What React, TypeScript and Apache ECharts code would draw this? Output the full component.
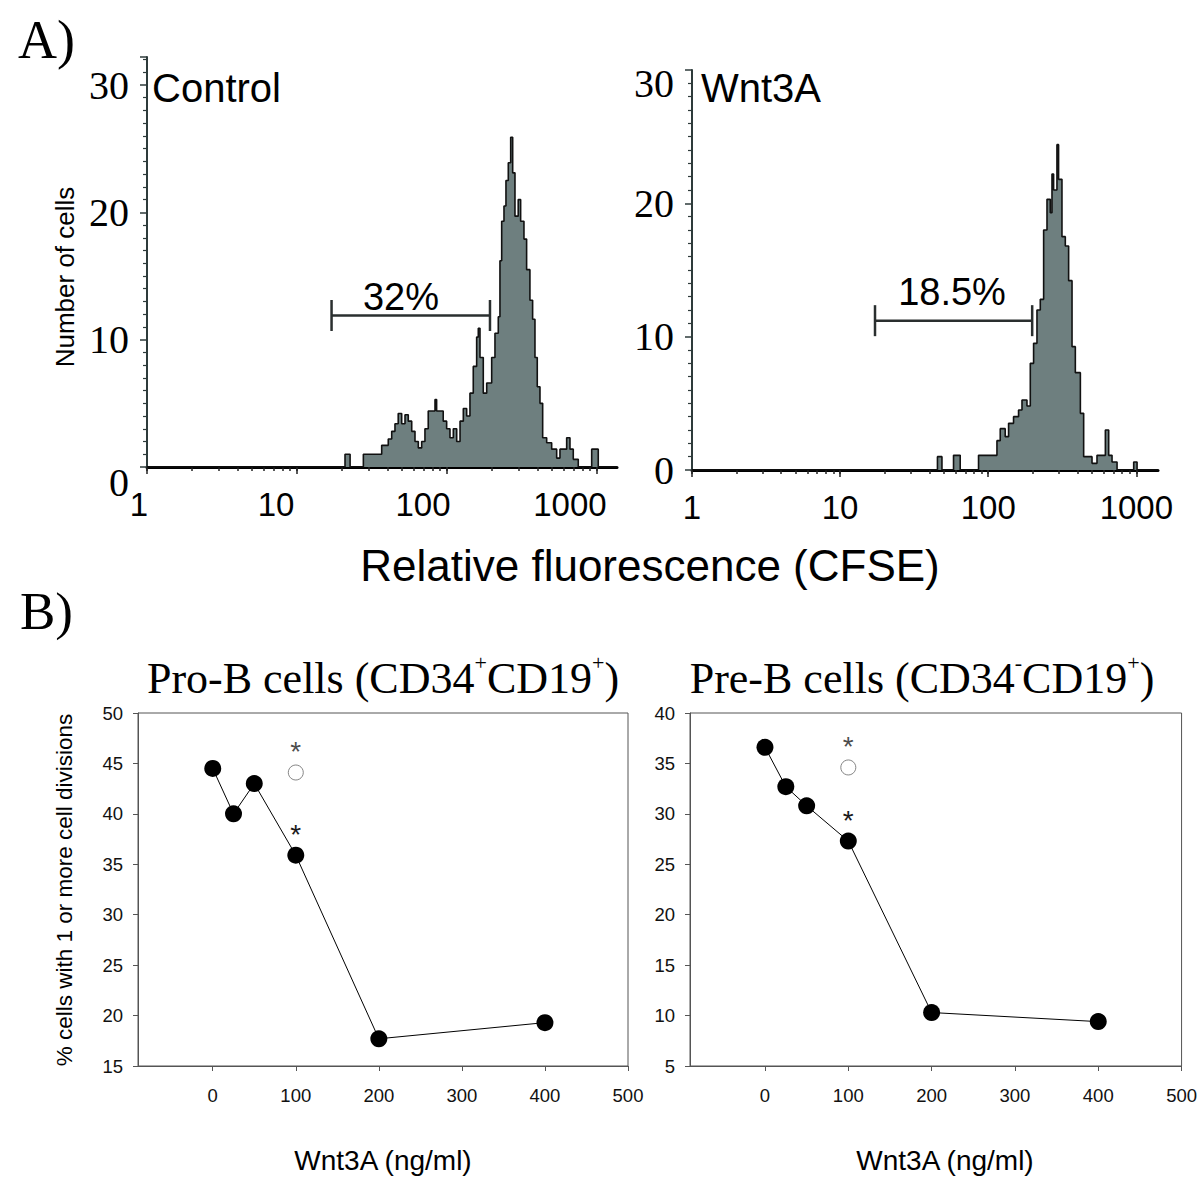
import React, { useEffect, useRef } from "react";
import * as echarts from "echarts";

const SANS = '"Liberation Sans", Arial, sans-serif';
const SERIF = '"Liberation Serif", "Times New Roman", serif';

// ---------- Panel A: CFSE histograms (bin start on log scale, number of cells) ----------
const controlFluor = [1, 20.9, 22.6, 27.7, 36.7, 40.6, 42.8, 45.0, 47.3, 49.9, 52.5, 55.2, 58.2, 61.2, 64.4, 67.8, 71.3, 75.0, 83.2, 85.3, 94.4, 99.5, 104.7, 110.2, 116.1, 122.2, 128.5, 135.3, 142.3, 149.7, 157.7, 161.7, 166.0, 174.6, 184.0, 198.6, 208.9, 219.8, 225.5, 231.6, 239.9, 247.3, 256.3, 265.9, 274.2, 284.0, 298.5, 309.8, 326.0, 339.6, 357.3, 372.4, 386.0, 399.9, 416.9, 434.5, 462.1, 498.9, 538.7, 566.6, 628.0, 660.7, 695.0, 750.4, 922, 1020, 1360];
const controlCounts = [0, 1, 0, 1, 1.7, 2.2, 2.8, 3.4, 4.2, 3.4, 4.1, 3.6, 2.8, 2.0, 1.5, 2.0, 3.0, 4.4, 5.3, 4.4, 3.6, 3.0, 2.3, 3.0, 2.0, 3.6, 4.6, 4.0, 5.8, 7.9, 10.2, 10.9, 8.6, 5.8, 6.6, 8.6, 10.5, 11.8, 16.2, 19.3, 20.5, 22.5, 23.9, 25.9, 23.1, 19.7, 21.0, 19.3, 17.9, 15.5, 13.1, 11.6, 8.6, 6.3, 5.0, 2.3, 1.9, 1.4, 0.7, 1.4, 2.3, 1.4, 0.6, 0, 1.4, 0, 0];

const wntFluor = [1, 45.4, 48.7, 58.3, 64.7, 86.0, 114.5, 120.5, 130.2, 137.2, 148.2, 160.2, 169.0, 182.6, 192.3, 202.4, 213.3, 224.6, 236.6, 249.3, 262.4, 269.4, 276.3, 291.0, 298.5, 314.6, 331.4, 349.0, 367.9, 387.3, 418.8, 440.8, 501.9, 542.3, 617.6, 650.5, 685.2, 740.8, 959.5, 1011, 1400];
const wntCounts = [0, 1.0, 0, 1.1, 0, 1.1, 2.2, 3.1, 2.5, 3.5, 4.0, 4.5, 5.25, 4.8, 8.0, 9.5, 12, 12.8, 18, 20.3, 19.3, 22.2, 21, 24.4, 21.8, 17.5, 16.8, 14.2, 9.25, 7.3, 4.25, 1.0, 0.5, 1.1, 3.0, 1.1, 0.6, 0, 0.6, 0, 0];

// gates (marker bars)
const controlGate = [17.0, 193.5];
const controlGateLevel = 11.9;
const controlGateText = "32%";
const wntGate = [17.2, 198];
const wntGateLevel = 11.2;
const wntGateText = "18.5%";

// axis ticks / labels
const logMinorTicks = [1, 2, 3, 4, 5, 6, 7, 8, 9, 10, 20, 30, 40, 50, 60, 70, 80, 90, 100, 200, 300, 400, 500, 600, 700, 800, 900, 1000];
const logMajorTicks = [1, 10, 100, 1000];
const histYTicks = [0, 10, 20, 30];

// ---------- Panel B ----------
const doses = [0, 25, 50, 100, 200, 400];
const proB = [44.5, 40.0, 43.0, 35.9, 17.7, 19.3];
const preB = [36.6, 32.7, 30.8, 27.3, 10.3, 9.4];
const proBOpen = [[100, 44.1]];
const preBOpen = [[100, 34.6]];
const starredDoseIndex = 3;
const doseTicks = [0, 100, 200, 300, 400, 500];

const zip = (a: number[], b: number[]) => a.map((v, i) => [v, b[i]]);

function histXAxis(gridIndex: number, max: number, shift: Record<number, number>) {
  const rich: Record<string, any> = {};
  logMajorTicks.forEach((t) => {
    rich["p" + t] = {
      fontFamily: SANS,
      fontSize: 33,
      color: "#000",
      padding: [0, 2 * (shift[t] || 0), 0, 0],
    };
  });
  return [
    {
      type: "log",
      logBase: 10,
      gridIndex,
      min: 1,
      max,
      position: "bottom",
      axisLine: { onZero: false, lineStyle: { color: "#000", width: 3 } },
      axisTick: { show: true, customValues: logMinorTicks, length: 4, lineStyle: { color: "#222", width: 1.5 } },
      axisLabel: {
        customValues: logMajorTicks,
        margin: 21,
        formatter: (v: number) => `{p${Math.round(v)}|${Math.round(v)}}`,
        rich,
      },
      splitLine: { show: false },
    },
    {
      type: "log",
      logBase: 10,
      gridIndex,
      min: 1,
      max,
      position: "bottom",
      axisLine: { show: false, onZero: false },
      axisTick: { show: true, customValues: logMajorTicks, length: 7, lineStyle: { color: "#222", width: 1.5 } },
      axisLabel: { show: false },
      splitLine: { show: false },
    },
  ];
}

function histYAxis(gridIndex: number, max: number, down: Record<number, number>, margin: number) {
  const rich: Record<string, any> = {};
  histYTicks.forEach((t) => {
    rich["y" + t] = {
      fontFamily: SERIF,
      fontSize: 40,
      color: "#000",
      padding: [2 * (down[t] || 0), 0, 0, 0],
    };
  });
  return {
    type: "value",
    gridIndex,
    min: 0,
    max,
    interval: 10,
    axisLine: { onZero: false, lineStyle: { color: "#2e3b3b", width: 2 } },
    axisTick: { show: true, length: 7, lineStyle: { color: "#2e3b3b", width: 1.5 } },
    minorTick: { show: true, splitNumber: 10, length: 4, lineStyle: { color: "#2e3b3b", width: 1.2 } },
    axisLabel: {
      customValues: histYTicks,
      margin,
      formatter: (v: number) => `{y${v}|${v}}`,
      rich,
    },
    splitLine: { show: false },
    minorSplitLine: { show: false },
  };
}

function doseXAxis(gridIndex: number) {
  return {
    type: "value",
    gridIndex,
    min: -90,
    max: 500,
    axisLine: { onZero: false, lineStyle: { color: "#555", width: 1 } },
    axisTick: { show: true, customValues: doseTicks, length: 5, lineStyle: { color: "#555" } },
    axisLabel: { customValues: doseTicks, margin: 20, fontFamily: SANS, fontSize: 18.5, color: "#111" },
    splitLine: { show: false },
  };
}

function pctYAxis(gridIndex: number, min: number, max: number) {
  return {
    type: "value",
    gridIndex,
    min,
    max,
    interval: 5,
    axisLine: { onZero: false, lineStyle: { color: "#555", width: 1 } },
    axisTick: { show: true, length: 5, lineStyle: { color: "#555" } },
    axisLabel: { margin: 15, fontFamily: SANS, fontSize: 18.5, color: "#111" },
    splitLine: { show: false },
  };
}

function histSeries(xAxisIndex: number, yAxisIndex: number, fl: number[], ct: number[]) {
  return {
    type: "line",
    xAxisIndex,
    yAxisIndex,
    step: "end",
    symbol: "none",
    data: zip(fl, ct),
    lineStyle: { color: "#111", width: 1.6 },
    areaStyle: { color: "#6e7f7f", opacity: 1 },
    z: 2,
  };
}

function gateSeries(xAxisIndex: number, yAxisIndex: number, gate: number[], level: number) {
  return {
    type: "line",
    xAxisIndex,
    yAxisIndex,
    data: gate.map((g) => [g, level]),
    symbol: "rect",
    symbolSize: [2.5, 31],
    itemStyle: { color: "#2a2f2f" },
    lineStyle: { color: "#2a2f2f", width: 2.5 },
    z: 5,
  };
}

const starLabel = { show: true, position: "top", distance: -2, formatter: "*", fontFamily: SANS, fontSize: 28, color: "#1a1a1a" };

function doseSeries(xAxisIndex: number, yAxisIndex: number, values: number[]) {
  return {
    type: "line",
    xAxisIndex,
    yAxisIndex,
    data: doses.map((d, i) =>
      i === starredDoseIndex ? { value: [d, values[i]], label: starLabel } : { value: [d, values[i]] }
    ),
    symbol: "circle",
    symbolSize: 17,
    itemStyle: { color: "#000" },
    lineStyle: { color: "#000", width: 1 },
    z: 3,
  };
}

function openSeries(xAxisIndex: number, yAxisIndex: number, pts: number[][]) {
  return {
    type: "scatter",
    xAxisIndex,
    yAxisIndex,
    data: pts,
    symbol: "circle",
    symbolSize: 15,
    itemStyle: { color: "#fff", borderColor: "#666", borderWidth: 1 },
    label: { ...starLabel, distance: -1 },
    z: 3,
  };
}

function txt(x: number, y: number, text: string, font: string, size: number, align = "left", extra: any = {}) {
  return {
    type: "text",
    x,
    y,
    ...extra,
    style: {
      text,
      fontFamily: font,
      fontSize: size,
      fill: "#000",
      align,
      verticalAlign: "middle",
    },
  };
}

const titleRich = {
  n: { fontFamily: SERIF, fontSize: 44, color: "#000", lineHeight: 54 },
  s: { fontFamily: SERIF, fontSize: 22, color: "#000", verticalAlign: "top" },
};

export default function App() {
  const ref = useRef<HTMLDivElement>(null);
  useEffect(() => {
    if (!ref.current) return;
    const chart = echarts.init(ref.current, null, { renderer: "svg" });
    const option: any = {
      animation: false,
      backgroundColor: "#fff",
      grid: [
        { left: 147, top: 57, width: 470, height: 410 },
        { left: 692, top: 70, width: 466, height: 400 },
        { left: 138, top: 713, width: 490, height: 353, show: true, borderColor: "#555", borderWidth: 1 },
        { left: 690, top: 713, width: 492, height: 353, show: true, borderColor: "#555", borderWidth: 1 },
      ],
      xAxis: [
        ...histXAxis(0, 1360, { 1: 8, 10: 21, 100: 24, 1000: 27 }),
        ...histXAxis(1, 1400, {}),
        doseXAxis(2),
        doseXAxis(3),
      ],
      yAxis: [
        histYAxis(0, 32.2, { 0: 15 }, 18),
        histYAxis(1, 30, { 30: 13 }, 18),
        pctYAxis(2, 15, 50),
        pctYAxis(3, 5, 40),
      ],
      series: [
        histSeries(0, 0, controlFluor, controlCounts),
        gateSeries(0, 0, controlGate, controlGateLevel),
        histSeries(2, 1, wntFluor, wntCounts),
        gateSeries(2, 1, wntGate, wntGateLevel),
        doseSeries(4, 2, proB),
        openSeries(4, 2, proBOpen),
        doseSeries(5, 3, preB),
        openSeries(5, 3, preBOpen),
      ],
      graphic: [
        txt(18, 40, "A)", SERIF, 54),
        txt(20, 611, "B)", SERIF, 53),
        txt(152, 88, "Control", SANS, 40),
        txt(701, 88, "Wnt3A", SANS, 40),
        txt(401, 297, controlGateText, SANS, 38, "center"),
        txt(952, 292, wntGateText, SANS, 38, "center"),
        txt(650, 565, "Relative fluorescence (CFSE)", SANS, 44, "center"),
        txt(65, 277, "Number of cells", SANS, 26, "center", { rotation: Math.PI / 2 }),
        txt(64, 890, "% cells with 1 or more cell divisions", SANS, 22.5, "center", { rotation: Math.PI / 2 }),
        txt(383, 1160, "Wnt3A (ng/ml)", SANS, 28, "center"),
        txt(945, 1160, "Wnt3A (ng/ml)", SANS, 28, "center"),
        {
          type: "text",
          x: 383,
          y: 678,
          style: {
            text: "{n|Pro-B cells (CD34}{s|+}{n|CD19}{s|+}{n|)}",
            rich: titleRich,
            align: "center",
            verticalAlign: "middle",
          },
        },
        {
          type: "text",
          x: 922,
          y: 678,
          style: {
            text: "{n|Pre-B cells (CD34}{s|-}{n|CD19}{s|+}{n|)}",
            rich: titleRich,
            align: "center",
            verticalAlign: "middle",
          },
        },
      ],
    };
    chart.setOption(option);
    return () => chart.dispose();
  }, []);
  return (
    <div
      ref={ref}
      style={{ position: "absolute", left: 0, top: 0, width: 1200, height: 1201, background: "#fff" }}
    />
  );
}
